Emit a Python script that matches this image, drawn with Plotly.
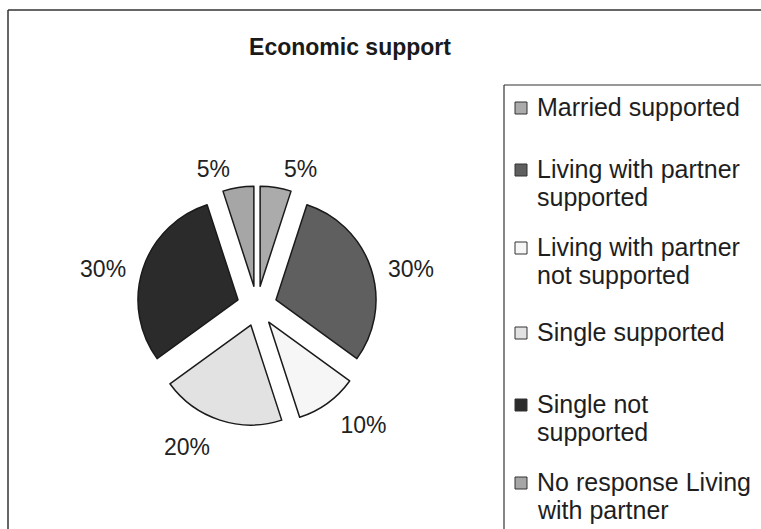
import plotly.graph_objects as go

# Survey categories and their shares (%)
categories = [
    "Married supported",
    "Living with partner supported",
    "Living with partner not supported",
    "Single supported",
    "Single not supported",
    "No response Living with partner",
]
shares = [5, 30, 10, 20, 30, 5]

# Legend text, wrapped the way it is printed
legend_lines = [
    ["Married supported"],
    ["Living with partner", "supported"],
    ["Living with partner", "not supported"],
    ["Single supported"],
    ["Single not", "supported"],
    ["No response Living", "with partner"],
]

slice_colors = ["#ababab", "#5f5f5f", "#f6f6f6", "#e2e2e2", "#2b2b2b", "#a6a6a6"]

W, H = 761, 529


def px_x(x):
    return x / W


def px_y(y):
    return 1 - y / H


# Pie geometry in pixels
cx, cy = 257, 306
radius = 100
pull = 0.2
label_radius = radius + 9  # percentage labels sit a little away from the slices
label_drop = 5


def domain_for(r, dy=0):
    half = r * (1 + pull)
    return dict(
        x=[px_x(cx - half), px_x(cx + half)],
        y=[px_y(cy + dy + half), px_y(cy + dy - half)],
    )


label_font = dict(family="Arial, Liberation Sans", size=23, color="#222222")

fig = go.Figure()

# invisible ring that only carries the percentage labels
fig.add_trace(go.Pie(
    labels=categories,
    values=shares,
    sort=False,
    direction="clockwise",
    rotation=0,
    pull=[pull] * len(shares),
    marker=dict(colors=["rgba(0,0,0,0)"] * len(shares), line=dict(width=0)),
    texttemplate="%{value}%",
    textposition="outside",
    outsidetextfont=label_font,
    domain=domain_for(label_radius, label_drop),
    showlegend=False,
    hoverinfo="skip",
))

# the exploded pie itself
fig.add_trace(go.Pie(
    labels=categories,
    values=shares,
    sort=False,
    direction="clockwise",
    rotation=0,
    pull=[pull] * len(shares),
    marker=dict(colors=slice_colors, line=dict(color="#1a1a1a", width=1.5)),
    textinfo="none",
    domain=domain_for(radius),
    showlegend=False,
    hoverinfo="label+percent",
))

shapes = [
    # outer chart frame
    dict(type="line", xref="paper", yref="paper", x0=px_x(8), x1=1, y0=px_y(10), y1=px_y(10),
         line=dict(color="#333333", width=1.5)),
    dict(type="line", xref="paper", yref="paper", x0=px_x(8), x1=px_x(8), y0=px_y(10), y1=0,
         line=dict(color="#333333", width=1.5)),
    # legend box
    dict(type="line", xref="paper", yref="paper", x0=px_x(504), x1=1, y0=px_y(85), y1=px_y(85),
         line=dict(color="#333333", width=1.2)),
    dict(type="line", xref="paper", yref="paper", x0=px_x(504), x1=px_x(504), y0=px_y(85), y1=0,
         line=dict(color="#333333", width=1.2)),
]

annotations = []
slot_centers = [107, 183, 261, 332, 418, 496]
line_gap = 28
sw = 12
for lines, color, yc in zip(legend_lines, slice_colors, slot_centers):
    n = len(lines)
    first = yc - line_gap * (n - 1) / 2
    shapes.append(dict(
        type="rect", xref="paper", yref="paper",
        x0=px_x(515), x1=px_x(515 + sw),
        y0=px_y(first + sw / 2 + 1), y1=px_y(first - sw / 2 + 1),
        fillcolor=color, line=dict(color="#333333", width=1),
    ))
    for k, txt in enumerate(lines):
        annotations.append(dict(
            text=txt, xref="paper", yref="paper",
            x=px_x(535), y=px_y(first + k * line_gap),
            xanchor="left", yanchor="middle", showarrow=False,
            font=dict(family="Arial, Liberation Sans", size=25, color="#1e1e1e"),
        ))

fig.update_layout(
    width=W,
    height=H,
    margin=dict(l=0, r=0, t=0, b=0),
    paper_bgcolor="white",
    plot_bgcolor="white",
    title=dict(
        text="<b>Economic support</b>",
        x=px_x(350), y=px_y(47), xanchor="center", yanchor="middle",
        font=dict(family="Arial, Liberation Sans", size=23, color="#1a1a1a"),
    ),
    shapes=shapes,
    annotations=annotations,
)

fig.write_html("out.html")
